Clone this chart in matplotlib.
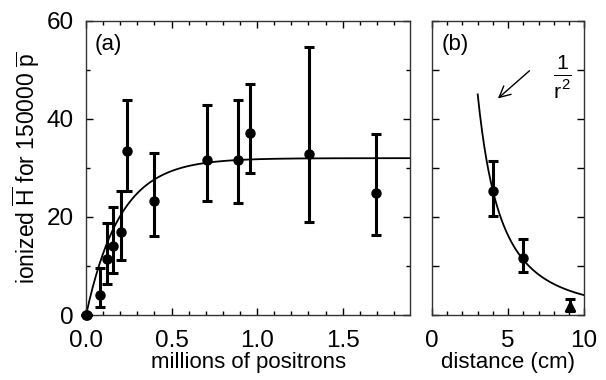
import numpy as np
import matplotlib.pyplot as plt
from matplotlib.ticker import MultipleLocator

plt.rcParams['font.family'] = ['Liberation Sans', 'DejaVu Sans']
plt.rcParams['mathtext.fontset'] = 'custom'
plt.rcParams['mathtext.rm'] = 'Liberation Sans'
plt.rcParams['mathtext.it'] = 'Liberation Sans'

# panel (a): ionized antihydrogen vs number of positrons
positrons = [0.0, 0.005, 0.082, 0.125, 0.156, 0.207, 0.242, 0.40, 0.707, 0.889, 0.961, 1.303, 1.697]
ionized = [0.0, 0.0, 4.0, 11.4, 14.0, 17.0, 33.4, 23.2, 31.7, 31.7, 37.1, 32.9, 24.9]
err_hi = [0.0, 0.0, 9.5, 18.7, 22.1, 25.2, 43.8, 33.0, 42.9, 43.8, 47.1, 54.6, 36.9]
err_lo = [0.0, 0.0, 1.6, 6.3, 8.5, 11.2, 25.2, 16.1, 23.2, 22.9, 29.0, 19.0, 16.3]

# saturating fit  A * (1 - exp(-N / N0))
fit_A = 32.0
fit_N0 = 0.2

# panel (b): ionized antihydrogen vs distance
dist = [4.03, 6.0]
ion_b = [25.3, 11.7]
hi_b = [31.5, 15.5]
lo_b = [20.1, 8.7]
tri_x = [9.06]
tri_y = [1.8]
tri_hi = [3.3]
tri_lo = [0.9]

# 1/r^2 curve  C / r^2
inv_C = 405.0
r_start, r_end = 3.0, 10.0

fig = plt.figure(figsize=(6.06, 3.8), dpi=100)
ax1 = fig.add_axes([0.142, 0.171, 0.535, 0.774])
ax2 = fig.add_axes([0.713, 0.171, 0.251, 0.774])

ebkw = dict(color='black', elinewidth=2.2, capsize=3.6, capthick=2.2)

# (a)
yerr = [np.array(ionized) - np.array(err_lo), np.array(err_hi) - np.array(ionized)]
ax1.errorbar(positrons, ionized, yerr=yerr, fmt='o', ms=6.5, clip_on=False, zorder=3, **ebkw)
xs = np.linspace(0, 1.9, 300)
ax1.plot(xs, fit_A * (1 - np.exp(-xs / fit_N0)), color='black', lw=1.3)
ax1.set_xlim(0, 1.895)
ax1.set_ylim(0, 60)
ax1.xaxis.set_major_locator(MultipleLocator(0.5))
ax1.xaxis.set_minor_locator(MultipleLocator(0.1))
ax1.yaxis.set_major_locator(MultipleLocator(20))
ax1.yaxis.set_minor_locator(MultipleLocator(10))
ax1.xaxis.set_major_formatter(plt.FormatStrFormatter('%.1f'))
ax1.set_xlabel('millions of positrons', fontsize=16, labelpad=0)
ax1.set_ylabel(r'ionized $\overline{\rm H}$ for 150000 $\overline{\rm p}$', fontsize=16.5, labelpad=3)
ax1.text(0.025, 0.955, '(a)', transform=ax1.transAxes, fontsize=16, va='top', ha='left')

# (b)
ax2.errorbar(dist, ion_b, yerr=[np.array(ion_b) - np.array(lo_b), np.array(hi_b) - np.array(ion_b)],
             fmt='o', ms=6.5, zorder=3, **ebkw)
ax2.errorbar(tri_x, tri_y, yerr=[np.array(tri_y) - np.array(tri_lo), np.array(tri_hi) - np.array(tri_y)],
             fmt='^', ms=7, zorder=3, **ebkw)
rs = np.linspace(r_start, r_end, 200)
ax2.plot(rs, inv_C / rs**2, color='black', lw=1.3)
ax2.annotate('', xy=(4.19, 43.8), xytext=(6.54, 50.2),
             arrowprops=dict(arrowstyle='->', color='black', lw=1.0, mutation_scale=20))
ax2.text(8.6, 48.6, r'$\frac{1}{r^2}$', fontsize=22, ha='center', va='center')
ax2.set_xlim(0, 10)
ax2.set_ylim(0, 60)
ax2.xaxis.set_major_locator(MultipleLocator(5))
ax2.xaxis.set_minor_locator(MultipleLocator(1))
ax2.yaxis.set_major_locator(MultipleLocator(10))
ax2.set_yticklabels([])
ax2.set_xlabel('distance (cm)', fontsize=16, labelpad=0)
ax2.text(0.06, 0.955, '(b)', transform=ax2.transAxes, fontsize=16, va='top', ha='left')

for ax in (ax1, ax2):
    ax.tick_params(which='both', direction='in', top=True, right=True, labelsize=17.5)
    ax.tick_params(axis='x', pad=11)
    ax.tick_params(axis='y', pad=9)
    ax.tick_params(which='major', length=5, width=1)
    ax.tick_params(which='minor', length=3, width=1)
    for s in ax.spines.values():
        s.set_linewidth(1.0)
        s.set_color('#333333')

fig.savefig('out.png', dpi=100)
